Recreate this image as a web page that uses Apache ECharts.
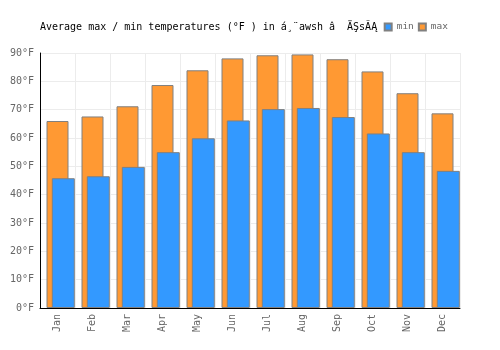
<!DOCTYPE html>
<html>
<head>
<meta charset="utf-8">
<script src="https://cdn.jsdelivr.net/npm/echarts@6/dist/echarts.min.js"></script>
<style>
  html, body { margin: 0; padding: 0; background: #fff; }
  #chart { width: 500px; height: 350px; }
</style>
</head>
<body>
<div id="chart"></div>
<script>
const months = ['Jan', 'Feb', 'Mar', 'Apr', 'May', 'Jun', 'Jul', 'Aug', 'Sep', 'Oct', 'Nov', 'Dec'];
const maxTemps = [66, 67.6, 71.2, 78.7, 83.9, 88.1, 89.2, 89.5, 87.8, 83.5, 75.8, 68.7];
const minTemps = [45.8, 46.5, 49.8, 55, 59.9, 66.2, 70.2, 70.6, 67.4, 61.6, 55, 48.4];
const title = 'Average max / min temperatures (°F ) in á¸¨awsh â  ÄŞsÃĄ';

const mono = 'DejaVu Sans Mono';
const gridLine = { show: true, lineStyle: { color: '#ececec', width: 1 } };

const chart = echarts.init(document.getElementById('chart'));

const option = {
  animation: false,
  title: {
    text: title,
    left: 35,
    top: 17,
    textStyle: { fontFamily: mono, fontSize: 10, fontWeight: 'normal', color: '#000' },
  },
  legend: {
    data: ['min', 'max'],
    right: 47,
    top: 17,
    icon: 'rect',
    itemWidth: 7,
    itemHeight: 7,
    itemGap: 4,
    textStyle: { fontFamily: mono, fontSize: 9.5, color: '#666' },
  },
  grid: [
    { left: 40, right: 40, top: 53, bottom: 42 },
    // second grid shifted a few px so the min bars sit over the right side
    { left: 45.8, right: 34.2, top: 53, bottom: 42 },
  ],
  xAxis: [
    {
      type: 'category',
      gridIndex: 0,
      data: months,
      axisLine: { lineStyle: { color: '#000', width: 1 } },
      axisTick: { show: false },
      axisLabel: { rotate: 90, margin: 6, fontFamily: mono, fontSize: 10, color: '#666' },
      splitLine: { ...gridLine, interval: 0 },
    },
    {
      type: 'category',
      gridIndex: 1,
      data: months,
      show: false,
    },
  ],
  yAxis: [
    {
      type: 'value',
      gridIndex: 0,
      min: 0,
      max: 90,
      interval: 10,
      axisLine: { show: true, lineStyle: { color: '#000', width: 1 } },
      axisTick: { show: false },
      axisLabel: { formatter: '{value}°F', margin: 6, fontFamily: mono, fontSize: 10, color: '#666' },
      splitLine: gridLine,
    },
    {
      type: 'value',
      gridIndex: 1,
      min: 0,
      max: 90,
      interval: 10,
      show: false,
      splitLine: { show: false },
    },
  ],
  series: [
    {
      name: 'max',
      type: 'bar',
      xAxisIndex: 0,
      yAxisIndex: 0,
      barWidth: 22,
      data: maxTemps,
      z: 2,
      itemStyle: { color: '#ff9933', borderColor: '#808080', borderWidth: 1 },
    },
    {
      name: 'min',
      type: 'bar',
      xAxisIndex: 1,
      yAxisIndex: 1,
      barWidth: 23,
      data: minTemps,
      z: 3,
      itemStyle: { color: '#3399ff', borderColor: '#808080', borderWidth: 1 },
    },
  ],
};

chart.setOption(option);
</script>
</body>
</html>
